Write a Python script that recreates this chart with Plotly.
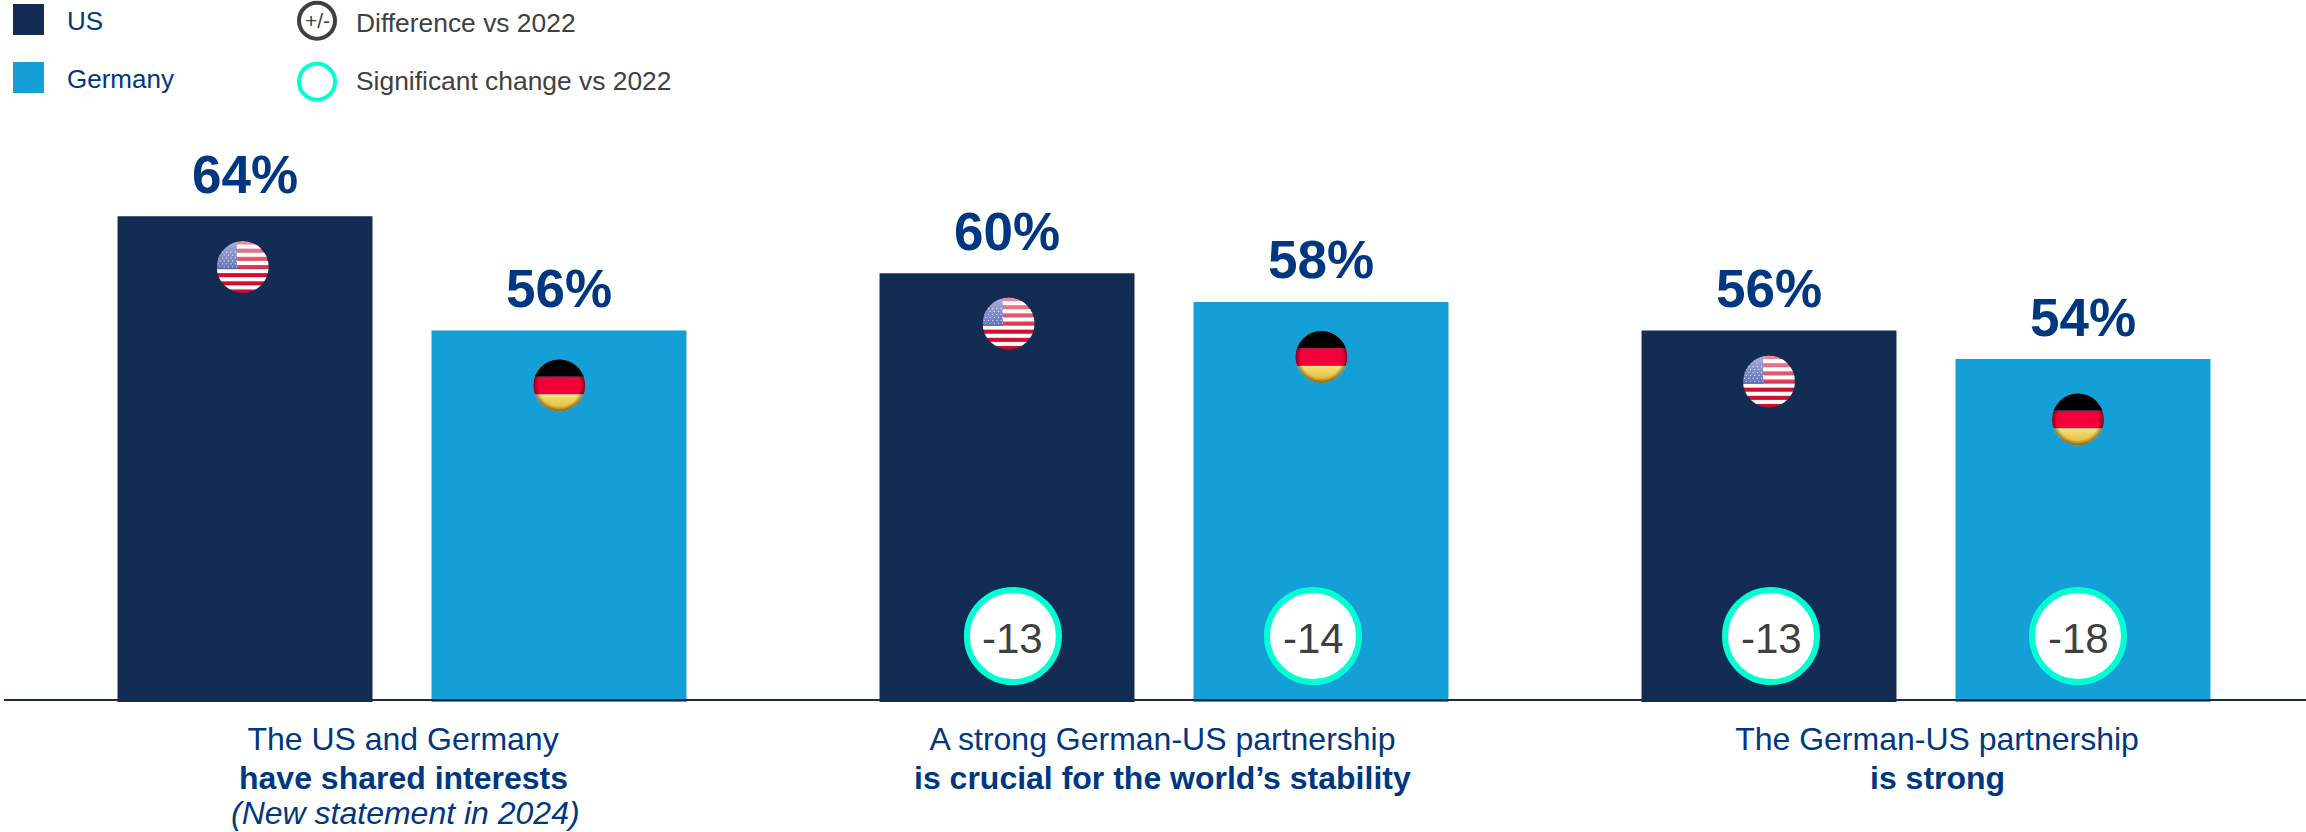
import base64
import plotly.graph_objects as go

# ---- data ----
groups = [0, 1, 2]
line1 = ["The US and Germany", "A strong German-US partnership", "The German-US partnership"]
line2 = ["have shared interests", "is crucial for the world’s stability", "is strong"]
line3 = ["(New statement in 2024)", "", ""]
us_values = [64, 60, 56]
de_values = [56, 58, 54]
us_delta = [None, -13, -13]
de_delta = [None, -14, -18]

# ---- layout constants ----
W, H = 2306, 832
PLOT_L, PLOT_B = 4, 702
PITCH = 762.0
C0 = 402.0
PX_PER_PCT = 14.29
AXIS_MIN = 30
NAVY, CYAN, INK, GREY, TEAL = "#132C54", "#14A0D6", "#003781", "#404040", "#00FFD2"
FONT = "Liberation Sans"


def px(xp):
    return (xp - PLOT_L) / (W - PLOT_L)


def py(yp):
    return 1 - yp / PLOT_B


def data_x(xp):
    return (xp - C0) / PITCH


def data_y(yp):
    return AXIS_MIN + (PLOT_B - yp) / PX_PER_PCT


def svg_uri(body):
    svg = ('<svg xmlns="http://www.w3.org/2000/svg" viewBox="0 0 100 100" width="200" height="200">'
           + body + '</svg>')
    return "data:image/svg+xml;base64," + base64.b64encode(svg.encode()).decode()


GLOSS_US = ('<defs><clipPath id="c"><circle cx="50" cy="50" r="49"/></clipPath>'
            '<filter id="b"><feGaussianBlur stdDeviation="0.7"/></filter>'
            '<linearGradient id="g" x1="0" y1="0" x2="0" y2="1">'
            '<stop offset="0%" stop-color="#fff" stop-opacity="0.55"/>'
            '<stop offset="50%" stop-color="#fff" stop-opacity="0.2"/>'
            '<stop offset="56%" stop-color="#fff" stop-opacity="0"/>'
            '<stop offset="100%" stop-color="#000" stop-opacity="0.05"/></linearGradient></defs>')
us_body = GLOSS_US + '<g clip-path="url(#c)"><g filter="url(#b)"><rect width="100" height="100" fill="#fff"/>'
for i in range(7):
    us_body += f'<rect y="{i * 15.4:.1f}" width="100" height="7.7" fill="#D3092F"/>'
us_body += '<rect width="39" height="54" fill="#3F55A8"/>'
for r in range(6):
    for c in range(5):
        us_body += f'<circle cx="{4 + c * 8 + (r % 2) * 3}" cy="{22 + r * 5.5}" r="1.1" fill="#fff"/>'
us_body += '</g><circle cx="50" cy="50" r="49" fill="url(#g)"/></g>'
US_FLAG = svg_uri(us_body)

DE_FLAG = svg_uri(
    '<defs><clipPath id="c"><circle cx="50" cy="50" r="49"/></clipPath>'
    '<radialGradient id="s" cx="50%" cy="50%" r="50%">'
    '<stop offset="80%" stop-color="#000" stop-opacity="0"/>'
    '<stop offset="100%" stop-color="#000" stop-opacity="0.45"/></radialGradient>'
    '<linearGradient id="y" x1="0" y1="0" x2="0" y2="1">'
    '<stop offset="0%" stop-color="#F7E27A"/><stop offset="100%" stop-color="#DDB02C"/></linearGradient></defs>'
    '<g clip-path="url(#c)">'
    '<rect width="100" height="33.4" fill="#000"/>'
    '<rect y="33.4" width="100" height="33.3" fill="#F2003A"/>'
    '<rect y="66.7" width="100" height="33.3" fill="url(#y)"/>'
    '<circle cx="50" cy="50" r="49" fill="url(#s)"/></g>')

# flag image centres in page pixels
us_flag_pos = [(242.7, 267), (1008.6, 323.5), (1769, 381.5)]
de_flag_pos = [(559.3, 385.5), (1321.4, 357), (2078, 419.5)]
FLAG_D = 53

# badge centres in page pixels
BADGE_Y = 636
us_badge_x = [None, 1012.9, 1771]
de_badge_x = [None, 1313, 2078]

# category label centres in page pixels
label_x = [403, 1162.5, 1937]
LINE2_Y, LINE3_Y = 778, 813

fig = go.Figure()
fig.add_bar(x=groups, y=us_values, name="US", marker=dict(color=NAVY, line_width=0))
fig.add_bar(x=groups, y=de_values, name="Germany", marker=dict(color=CYAN, line_width=0))

ann = []
for name, xs, deltas in (("US change", us_badge_x, us_delta), ("Germany change", de_badge_x, de_delta)):
    keep = [i for i, d in enumerate(deltas) if d is not None]
    fig.add_scatter(
        x=[data_x(xs[i]) for i in keep],
        y=[data_y(BADGE_Y)] * len(keep),
        name=name, mode="markers",
        marker=dict(size=92, color="#fff", line=dict(color=TEAL, width=6)),
        cliponaxis=False,
    )
    for i in keep:
        ann.append(dict(x=data_x(xs[i]), y=data_y(BADGE_Y), xref="x", yref="y", yshift=-2,
                        text=str(deltas[i]), showarrow=False, yanchor="middle",
                        font=dict(size=42, color=GREY, family=FONT)))

# value labels
BAR_DX = 157
for i in groups:
    for val, sign in ((us_values[i], -1), (de_values[i], 1)):
        ann.append(dict(x=i, y=val, xref="x", yref="y", xshift=sign * BAR_DX, yshift=42,
                        text=f"<b>{val}%</b>", showarrow=False, yanchor="middle",
                        font=dict(size=53, color=INK, family=FONT)))
# category label lines below the first
for i in groups:
    ann.append(dict(x=data_x(label_x[i]), y=py(LINE2_Y), xref="x", yref="paper", text=f"<b>{line2[i]}</b>",
                    showarrow=False, yanchor="middle", font=dict(size=32, color=INK, family=FONT)))
    if line3[i]:
        ann.append(dict(x=data_x(label_x[i] + 2), y=py(LINE3_Y), xref="x", yref="paper", text=f"<i>{line3[i]}</i>",
                        showarrow=False, yanchor="middle", font=dict(size=32, color=INK, family=FONT)))

# legend texts
for txt, xp, yp, col, size in (
    ("US", 64.5, 21, INK, 26),
    ("Germany", 64.5, 79, INK, 26),
    ("Difference vs 2022", 354, 23, GREY, 26.4),
    ("Significant change vs 2022", 354, 81, GREY, 26.4),
):
    ann.append(dict(x=px(xp), y=py(yp), xref="paper", yref="paper", text=txt, showarrow=False,
                    xanchor="left", yanchor="middle", font=dict(size=size, color=col, family=FONT)))
ann.append(dict(x=px(317), y=py(20.7), xref="paper", yref="paper", text="+/-", showarrow=False,
                xanchor="center", yanchor="middle", font=dict(size=21, color=GREY, family=FONT)))

shapes = [
    dict(type="line", xref="paper", yref="y", x0=0, x1=1, y0=data_y(700), y1=data_y(700),
         line=dict(color=NAVY, width=2), layer="above"),
    dict(type="rect", xref="paper", yref="paper", x0=px(13), x1=px(44), y0=py(4), y1=py(35),
         fillcolor=NAVY, line_width=0),
    dict(type="rect", xref="paper", yref="paper", x0=px(13), x1=px(44), y0=py(62), y1=py(93),
         fillcolor=CYAN, line_width=0),
    dict(type="circle", xref="paper", yref="paper", x0=px(299), x1=px(335), y0=py(2.7), y1=py(38.7),
         fillcolor="#fff", line=dict(color=GREY, width=4)),
    dict(type="circle", xref="paper", yref="paper", x0=px(299), x1=px(335), y0=py(63.7), y1=py(99.7),
         fillcolor="#fff", line=dict(color=TEAL, width=4)),
]

images = []
for src, positions in ((US_FLAG, us_flag_pos), (DE_FLAG, de_flag_pos)):
    for xp, yp in positions:
        images.append(dict(source=src, xref="paper", yref="paper", x=px(xp), y=py(yp),
                           sizex=FLAG_D / (W - PLOT_L), sizey=FLAG_D / PLOT_B,
                           xanchor="center", yanchor="middle", layer="above", sizing="stretch"))

fig.update_layout(
    width=W, height=H, autosize=False,
    margin=dict(l=PLOT_L, r=0, t=0, b=H - PLOT_B, pad=0),
    paper_bgcolor="#fff", plot_bgcolor="#fff",
    barmode="group", bargap=0.1759, bargroupgap=0.188,
    showlegend=False,
    font=dict(family=FONT),
    xaxis=dict(range=[data_x(PLOT_L), data_x(W)], tickmode="array",
               tickvals=[data_x(v) for v in label_x], ticktext=line1,
               tickfont=dict(size=32, color=INK, family=FONT), ticks="", showgrid=False,
               zeroline=False, showline=False, ticklabelstandoff=15),
    yaxis=dict(range=[AXIS_MIN, data_y(0)], visible=False, showgrid=False, zeroline=False),
    annotations=ann, shapes=shapes, images=images,
)

fig.write_html("out.html", config=dict(displayModeBar=False),
               post_script="document.body.style.margin='0';document.body.style.overflow='hidden';")
